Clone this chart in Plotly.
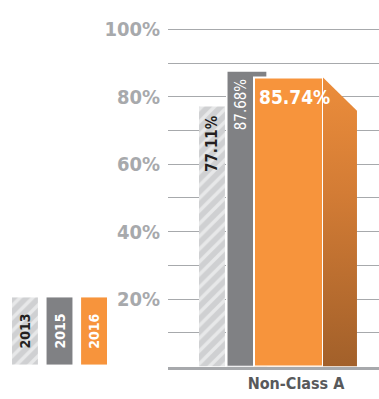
import plotly.graph_objects as go

# ---- data -------------------------------------------------------------
groups = ["Non-Class A"]
years = ["2013", "2015", "2016"]
rates = [77.11, 87.68, 85.74]          # % per year for the group
y_ticks = list(range(0, 101, 10))
y_labels = [f"{v}%" if v and v % 20 == 0 else "" for v in y_ticks]

# ---- styling ----------------------------------------------------------
FONT = "DejaVu Sans Condensed, sans-serif"
HATCH_BG = "#cfd0d2"
GRAY = "#808184"
ORANGE = "#f7943c"
AXIS_GRAY = "#a7a9ac"
legend_colors = [HATCH_BG, GRAY, ORANGE]
legend_text = ["#231f20", "white", "white"]

# bar geometry in x-axis units (one unit = full plot width)
offsets = [-0.4597, -0.328, -0.199]
widths = [0.123, 0.191, 0.327]
side_w = 0.161      # depth of the orange prism side
bevel = 9.85        # drop of the bevelled top edge, in % units

fig = go.Figure()
gx = 0  # position of the single group

fig.add_trace(go.Bar(
    x=[gx], y=[rates[0]], offset=offsets[0], width=widths[0],
    marker=dict(color=HATCH_BG, line=dict(width=0),
                pattern=dict(shape="/", fgcolor="white", bgcolor=HATCH_BG,
                             size=9, solidity=0.38)),
    hoverinfo="skip"))
fig.add_trace(go.Bar(
    x=[gx], y=[rates[1]], offset=offsets[1], width=widths[1],
    marker=dict(color=GRAY, line=dict(color="white", width=1.5)),
    hoverinfo="skip"))

# side face of the orange prism
xr = gx + offsets[2] + widths[2]
v = rates[2]
fig.add_trace(go.Scatter(
    x=[xr, xr, xr + side_w, xr + side_w, xr],
    y=[0, v, v - bevel, 0, 0],
    mode="lines", line=dict(width=0), fill="toself",
    fillgradient=dict(type="vertical",
                      colorscale=[[0, "#a2602a"], [0.6, "#d37c35"], [1, "#ec8d3b"]]),
    hoverinfo="skip"))
fig.add_trace(go.Bar(
    x=[gx], y=[rates[2]], offset=offsets[2], width=widths[2],
    marker=dict(color=ORANGE, line=dict(color="white", width=2)),
    hoverinfo="skip"))

# value labels
fig.add_annotation(x=gx + offsets[0] + widths[0] / 2, y=rates[0], yanchor="top",
                   yshift=-6, text=f"{rates[0]:.2f}%", textangle=-90,
                   showarrow=False,
                   font=dict(family=FONT, size=15, color="#231f20", weight=700))
fig.add_annotation(x=gx + offsets[1] + (offsets[2] - offsets[1]) / 2, y=rates[1],
                   yanchor="top", yshift=-5, text=f"{rates[1]:.2f}%", textangle=-90,
                   showarrow=False,
                   font=dict(family=FONT, size=15, color="white"))
fig.add_annotation(x=gx + offsets[2], y=rates[2], xanchor="left", yanchor="top",
                   xshift=3, yshift=-7, text=f"{rates[2]:.2f}%", showarrow=False,
                   font=dict(family=FONT, size=19, color="white", weight=700))

# legend swatches as a small bar subplot, one trace per year
for i, yr in enumerate(years):
    pat = dict(shape="/", fgcolor="white", bgcolor=HATCH_BG, size=9,
               solidity=0.38) if i == 0 else dict(shape="")
    fig.add_trace(go.Bar(
        x=[i], y=[1], width=0.75, xaxis="x2", yaxis="y2",
        text=[yr], textposition="inside", insidetextanchor="middle",
        textangle=-90,
        textfont=dict(family=FONT, size=14, weight=700, color=legend_text[i]),
        marker=dict(color=legend_colors[i], line=dict(width=0), pattern=pat),
        hoverinfo="skip"))

fig.update_layout(
    width=379, height=399,
    margin=dict(l=0, r=0, t=0, b=0),
    paper_bgcolor="white", plot_bgcolor="white",
    showlegend=False, barmode="overlay",
    xaxis=dict(domain=[168 / 379, 1], range=[-0.6066, 0.3934],
               tickvals=[gx], ticktext=groups, showgrid=False, zeroline=False,
               showline=True, linecolor=AXIS_GRAY, linewidth=3, ticks="",
               tickfont=dict(family=FONT, size=16, color="#58595b", weight=700)),
    yaxis=dict(domain=[0.0832, 0.9565], range=[0, 101],
               tickvals=y_ticks, ticktext=y_labels, showgrid=True,
               gridcolor=AXIS_GRAY, gridwidth=1.2, zeroline=False, showline=False,
               ticks="", ticklabelstandoff=7,
               tickfont=dict(family=FONT, size=20, color=AXIS_GRAY, weight=700)),
    xaxis2=dict(domain=[0.0203, 0.2937], range=[-0.5, 2.5], anchor="y2",
                visible=False),
    yaxis2=dict(domain=[0.0877, 0.2607], range=[0, 1], anchor="x2", visible=False),
)

fig.write_html("out.html")
